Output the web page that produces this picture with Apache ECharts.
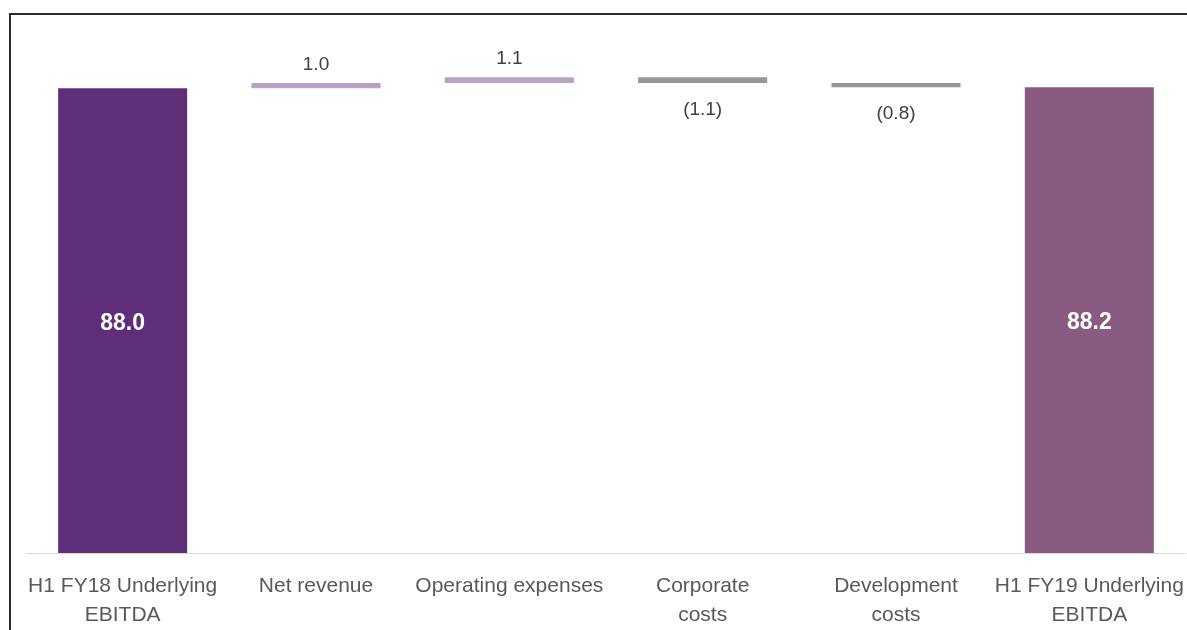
<!DOCTYPE html>
<html lang="en">
<head>
  <meta charset="UTF-8">
  <title>EBITDA Bridge</title>
  <script src="https://cdn.jsdelivr.net/npm/echarts@6/dist/echarts.min.js"></script>
  <style>
    html, body { margin: 0; padding: 0; background: #fff; }
  </style>
</head>
<body>
<div id="bridge" style="width: 1187px; height: 630px;"></div>

<script>
  // categories and the movement of each step
  var categories = ['H1 FY18 Underlying\nEBITDA', 'Net revenue', 'Operating expenses', 'Corporate\ncosts', 'Development\ncosts', 'H1 FY19 Underlying\nEBITDA'];
  var values = [88.0, 1.0, 1.1, -1.1, -0.8, 88.2];
  var isTotal = [true, false, false, false, false, true];

  var colTotalStart = '#5f2e78';
  var colTotalEnd = '#8a5b80';
  var colUp = '#b9a3c5';
  var colDown = '#969696';

  // build the invisible base and the visible part of the waterfall
  var baseData = [];
  var barData = [];
  var running = 0;
  values.forEach(function (v, i) {
    if (isTotal[i]) {
      baseData.push(0);
      running = v;
      barData.push({
        value: v,
        itemStyle: { color: i === 0 ? colTotalStart : colTotalEnd },
        label: {
          show: true, position: 'inside', offset: [0, 3], color: '#fff', fontWeight: 'bold',
          fontSize: 23, fontFamily: 'Liberation Sans',
          formatter: v.toFixed(1)
        }
      });
    } else {
      var next = running + v;
      baseData.push(Math.min(running, next));
      running = next;
      barData.push({
        value: Math.abs(v),
        itemStyle: { color: v >= 0 ? colUp : colDown },
        label: {
          show: true, position: v >= 0 ? 'top' : 'bottom', distance: v >= 0 ? 9 : 17,
          color: '#404040', fontSize: 19, fontFamily: 'Liberation Sans',
          formatter: v >= 0 ? v.toFixed(1) : '(' + Math.abs(v).toFixed(1) + ')'
        }
      });
    }
  });

  var myChart = echarts.init(document.getElementById('bridge'));

  var option = {
    animation: false,
    grid: { left: 26, right: 1, top: 25, bottom: 77, outerBoundsMode: 'none', containLabel: false },
    graphic: [{
      type: 'rect',
      shape: { x: 10, y: 14, width: 1400, height: 800 },
      style: { fill: 'none', stroke: '#2b2b2b', lineWidth: 2 },
      silent: true
    }],
    xAxis: {
      type: 'category',
      data: categories,
      axisTick: { show: false },
      axisLine: { lineStyle: { color: '#d9d9d9', width: 1 } },
      axisLabel: {
        interval: 0,
        margin: 19,
        color: '#595959',
        fontSize: 21,
        lineHeight: 29,
        hideOverlap: false,
        fontFamily: '"Liberation Sans", Arial, sans-serif'
      }
    },
    yAxis: {
      type: 'value',
      min: 0,
      max: 100,
      show: false,
      splitLine: { show: false }
    },
    series: [{
      type: 'bar',
      stack: 'bridge',
      data: baseData,
      barWidth: 129,
      itemStyle: { color: 'transparent' },
      silent: true
    }, {
      type: 'bar',
      stack: 'bridge',
      data: barData,
      barWidth: 129
    }]
  };

  myChart.setOption(option);
</script>
</body>
</html>
